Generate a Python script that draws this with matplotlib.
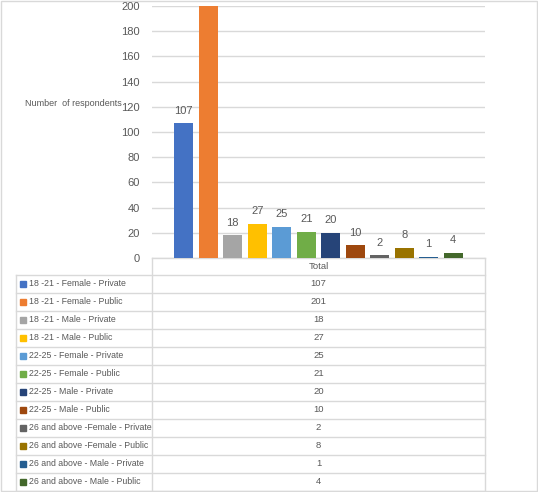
import matplotlib

matplotlib.use("Agg")
import matplotlib.pyplot as plt
from matplotlib.patches import Rectangle

plt.rcParams["font.family"] = ["Liberation Sans", "DejaVu Sans"]

series = [
    "18 -21 - Female - Private",
    "18 -21 - Female - Public",
    "18 -21 - Male - Private",
    "18 -21 - Male - Public",
    "22-25 - Female - Private",
    "22-25 - Female - Public",
    "22-25 - Male - Private",
    "22-25 - Male - Public",
    "26 and above -Female - Private",
    "26 and above -Female - Public",
    "26 and above - Male - Private",
    "26 and above - Male - Public",
]
values = [107, 201, 18, 27, 25, 21, 20, 10, 2, 8, 1, 4]
colors = ["#4472C4", "#ED7D31", "#A5A5A5", "#FFC000", "#5B9BD5", "#70AD47",
          "#264478", "#9E480E", "#636363", "#997300", "#255E91", "#43682B"]
yticks = list(range(0, 201, 20))
category = "Total"

W, H = 538, 492
TXT = "#595959"
GRID = "#D9D9D9"

fig = plt.figure(figsize=(W / 100, H / 100), dpi=100)

# pixel canvas for the data table and border
bg = fig.add_axes([0, 0, 1, 1], zorder=0)
bg.set_xlim(0, W)
bg.set_ylim(H, 0)
bg.set_axis_off()

# ---- plot area ----
x0, x1, ytop, ybot = 152, 485, 6, 258
ax = fig.add_axes([x0 / W, 1 - ybot / H, (x1 - x0) / W, (ybot - ytop) / H], zorder=1)
ax.patch.set_alpha(0)
xs = list(range(len(values)))
ax.bar(xs, values, width=0.78, color=colors, zorder=2)
ax.set_ylim(0, 200)
ax.set_xlim(5.5 - 6.8, 5.5 + 6.8)
ax.set_yticks(yticks)
ax.set_yticklabels([str(t) for t in yticks], fontsize=8, color=TXT)
ax.set_xticks([])
ax.tick_params(axis="y", length=0, pad=9)
ax.yaxis.grid(True, color=GRID, lw=1)
ax.set_axisbelow(True)
for s in ax.spines.values():
    s.set_visible(False)
for x, v in zip(xs, values):
    if v <= 200:
        ax.text(x, v + 6, str(v), ha="center", va="bottom", fontsize=8, color=TXT)
bg.text(122, 103, "Number  of respondents", ha="right", va="center",
        fontsize=6.5, color=TXT)

# ---- data table ----
tl, hdr_top, row_top, row_h = 16, 258, 275, 18
n = len(series)
bottom = row_top + n * row_h
bg.plot([x0, x1], [hdr_top, hdr_top], color=GRID, lw=1)
bg.plot([x0, x0], [hdr_top, bottom], color=GRID, lw=1)
bg.plot([x1, x1], [hdr_top, bottom], color=GRID, lw=1)
bg.plot([tl, tl], [row_top, bottom], color=GRID, lw=1)
bg.text((x0 + x1) / 2, (hdr_top + row_top) / 2, category, ha="center", va="center",
        fontsize=6.8, color=TXT)
for i in range(n + 1):
    y = row_top + i * row_h
    bg.plot([tl, x1], [y, y], color=GRID, lw=1)
for i, (name, v, c) in enumerate(zip(series, values, colors)):
    yc = row_top + i * row_h + row_h / 2
    bg.add_patch(Rectangle((20, yc - 3), 6, 6, color=c))
    bg.text(29, yc, name, ha="left", va="center", fontsize=6.3, color=TXT)
    bg.text((x0 + x1) / 2, yc, str(v), ha="center", va="center", fontsize=6.8, color=TXT)

# outer border
bg.add_patch(Rectangle((0.5, 0.5), W - 1.5, H - 1.5, fill=False, ec=GRID, lw=1))

fig.savefig("out.png", dpi=100)
